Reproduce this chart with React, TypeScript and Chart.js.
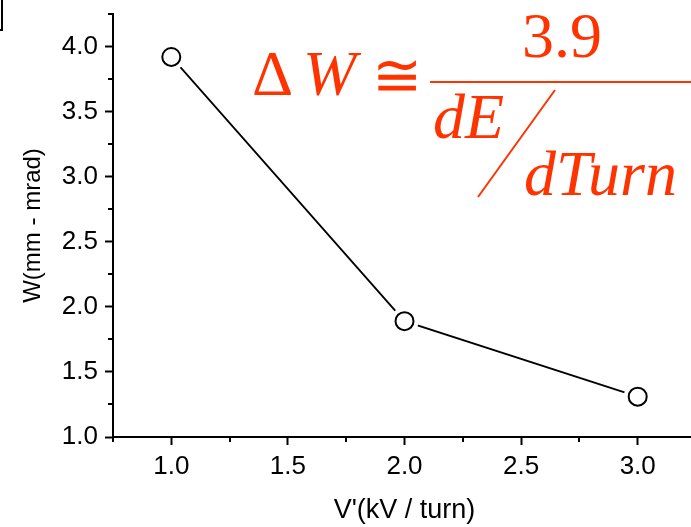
import { useEffect, useRef } from 'react';
import { Chart, registerables } from 'chart.js';

Chart.register(...registerables);

// Measured data: emittance growth vs. energy gain per turn
const voltagePerTurn = [1.0, 2.0, 3.0];
const emittanceGrowth = [3.92, 1.89, 1.31];

// Axis ranges and labelled ticks
const X_MIN = 0.75;
const X_MAX = 3.25;
const Y_MIN = 1.0;
const Y_MAX = 4.25;
const X_TICKS = [1.0, 1.5, 2.0, 2.5, 3.0];
const Y_TICKS = [1.0, 1.5, 2.0, 2.5, 3.0, 3.5, 4.0];
const MAJOR_STEP = 0.5;
const MINOR_STEP = 0.25;

const X_TITLE = "V'(kV / turn)";
const Y_TITLE = 'W(mm - mrad)';

// Scaling-law annotation
const FORMULA_DELTA = 'Δ';
const FORMULA_W = 'W';
const FORMULA_APPROX = '≅';
const FORMULA_NUMERATOR = '3.9';
const FORMULA_DE = 'dE';
const FORMULA_DTURN = 'dTurn';
const FORMULA_COLOR = '#ff3300';

const AXIS_FONT = '"Liberation Sans", Arial, sans-serif';
const SERIF_FONT = '"Liberation Serif", "Times New Roman", serif';

const decorations = {
  id: 'decorations',
  afterDraw(chart: any) {
    const { ctx, chartArea, scales } = chart;
    const xs = scales.x;
    const ys = scales.y;
    ctx.save();

    // minor ticks on both axes
    ctx.strokeStyle = '#000';
    ctx.lineWidth = 2;
    ctx.beginPath();
    for (let v = X_MIN; v <= X_MAX + 1e-9; v += MINOR_STEP) {
      if (Math.abs(v / MAJOR_STEP - Math.round(v / MAJOR_STEP)) < 1e-6) continue;
      const px = Math.round(xs.getPixelForValue(v));
      ctx.moveTo(px, chartArea.bottom);
      ctx.lineTo(px, chartArea.bottom + 5);
    }
    for (let v = Y_MIN; v <= Y_MAX + 1e-9; v += MINOR_STEP) {
      if (Math.abs(v / MAJOR_STEP - Math.round(v / MAJOR_STEP)) < 1e-6) continue;
      const py = Math.round(ys.getPixelForValue(v));
      ctx.moveTo(chartArea.left - 5, py);
      ctx.lineTo(chartArea.left, py);
    }
    ctx.stroke();

    // small bracket corner at the top-left
    ctx.beginPath();
    ctx.moveTo(2, 0);
    ctx.lineTo(2, 30);
    ctx.lineTo(0, 30);
    ctx.stroke();

    // formula
    ctx.fillStyle = FORMULA_COLOR;
    ctx.strokeStyle = FORMULA_COLOR;
    ctx.textBaseline = 'alphabetic';
    ctx.textAlign = 'left';
    ctx.font = `64px ${SERIF_FONT}`;
    ctx.fillText(FORMULA_DELTA, 252, 95);
    ctx.font = `italic 64px ${SERIF_FONT}`;
    ctx.fillText(FORMULA_W, 303, 95);
    ctx.font = `60px ${SERIF_FONT}`;
    ctx.fillText(FORMULA_APPROX, 372, 96);

    ctx.fillRect(430, 81, 270, 2);

    ctx.font = `64px ${SERIF_FONT}`;
    ctx.textAlign = 'center';
    ctx.fillText(FORMULA_NUMERATOR, 562, 57);

    ctx.textAlign = 'left';
    ctx.font = `italic 64px ${SERIF_FONT}`;
    ctx.fillText(FORMULA_DE, 433, 138);
    ctx.fillText(FORMULA_DTURN, 524, 195);

    ctx.lineWidth = 2;
    ctx.beginPath();
    ctx.moveTo(478, 197);
    ctx.lineTo(555, 90);
    ctx.stroke();

    ctx.restore();
  },
};

export default function App() {
  const canvasRef = useRef<HTMLCanvasElement>(null);

  useEffect(() => {
    const canvas = canvasRef.current;
    if (!canvas) return;
    const points = voltagePerTurn.map((x, i) => ({ x, y: emittanceGrowth[i] }));

    const chart = new Chart(canvas, {
      type: 'scatter',
      data: {
        datasets: [
          {
            data: points,
            showLine: true,
            borderColor: '#000',
            borderWidth: 1.8,
            pointRadius: 0,
            order: 3,
          },
          {
            data: points,
            showLine: false,
            pointRadius: 14,
            pointBackgroundColor: '#fff',
            pointBorderWidth: 0,
            pointBorderColor: '#fff',
            order: 2,
          },
          {
            data: points,
            showLine: false,
            pointRadius: 9,
            pointBorderWidth: 2,
            pointBorderColor: '#000',
            pointBackgroundColor: '#fff',
            order: 1,
          },
        ],
      },
      options: {
        responsive: false,
        animation: false,
        devicePixelRatio: 1,
        layout: { padding: { top: 11, right: 4, left: 0, bottom: 0 } },
        plugins: { legend: { display: false }, tooltip: { enabled: false } },
        scales: {
          x: {
            type: 'linear',
            min: X_MIN,
            max: X_MAX,
            border: { color: '#000', width: 2 },
            grid: { drawOnChartArea: false, drawTicks: true, tickLength: 8, tickWidth: 2, tickColor: '#000' },
            ticks: {
              color: '#000',
              padding: 6,
              font: { family: AXIS_FONT, size: 26 },
              callback: (v: any) => Number(v).toFixed(1),
            },
            afterBuildTicks: (s: any) => {
              s.ticks = X_TICKS.map((value) => ({ value }));
            },
            title: {
              display: true,
              text: X_TITLE,
              color: '#000',
              font: { family: AXIS_FONT, size: 27 },
              padding: { top: 2, bottom: 0 },
            },
            afterFit: (s: any) => {
              s.height = 90;
              s.paddingLeft = 0;
              s.paddingRight = 0;
            },
          },
          y: {
            type: 'linear',
            min: Y_MIN,
            max: Y_MAX,
            border: { color: '#000', width: 2 },
            grid: { drawOnChartArea: false, drawTicks: true, tickLength: 8, tickWidth: 2, tickColor: '#000' },
            ticks: {
              color: '#000',
              padding: 7,
              font: { family: AXIS_FONT, size: 26 },
              callback: (v: any) => Number(v).toFixed(1),
            },
            afterBuildTicks: (s: any) => {
              s.ticks = Y_TICKS.map((value) => ({ value }));
            },
            title: {
              display: true,
              text: Y_TITLE,
              color: '#000',
              font: { family: AXIS_FONT, size: 24 },
              padding: { top: 19, bottom: 0 },
            },
            afterFit: (s: any) => {
              s.width = 113;
              s.paddingTop = 0;
              s.paddingBottom = 0;
            },
          },
        },
      },
      plugins: [decorations],
    });

    return () => chart.destroy();
  }, []);

  return (
    <div
      style={{
        position: 'absolute',
        left: 0,
        top: 0,
        width: 691,
        height: 527,
        overflow: 'hidden',
        background: '#fff',
      }}
    >
      <canvas ref={canvasRef} width={710} height={527} style={{ display: 'block' }} />
    </div>
  );
}
